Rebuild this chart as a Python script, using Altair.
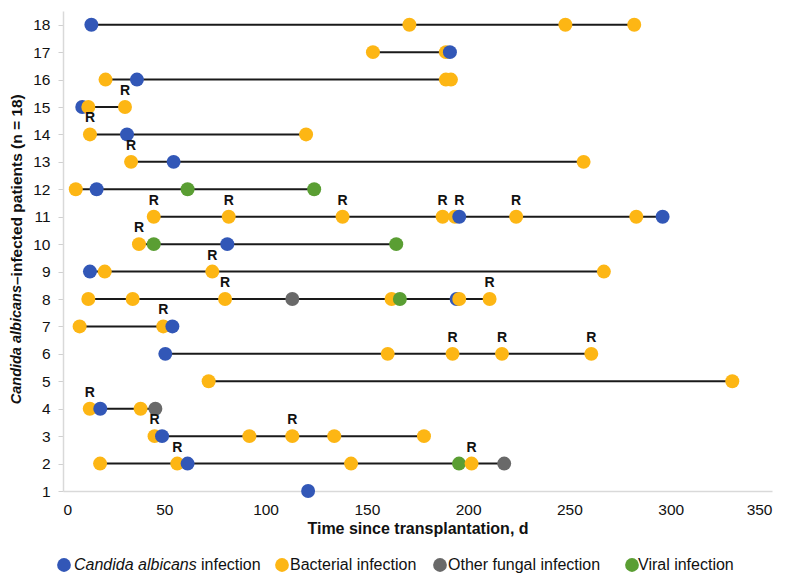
import altair as alt
import pandas as pd

# ---- data ----
CATS = ["Candida albicans infection", "Bacterial infection",
        "Other fungal infection", "Viral infection"]
COLORS = ["#3257B7", "#FDB614", "#696969", "#5A9E33"]
C, B, F, V = CATS

patient = ([18] * 4 + [17] * 3 + [16] * 4 + [15] * 3 + [14] * 3 + [13] * 3 +
           [12] * 4 + [11] * 9 + [10] * 4 + [9] * 4 + [8] * 9 + [7] * 3 +
           [6] * 5 + [5] * 2 + [4] * 4 + [3] * 6 + [2] * 7 + [1] * 1)
day = [14, 171, 248, 282,
       153, 189, 191,
       21, 36.5, 189, 191.5,
       9.5, 12.5, 30.6,
       13.3, 31.6, 120,
       33.6, 54.6, 257,
       6.3, 16.6, 61.5, 124,
       44.8, 81.8, 138, 187.4, 193.5, 195.6, 223.7, 283, 296,
       37.5, 44.8, 81.1, 164.5,
       13.3, 20.6, 73.7, 267,
       12.5, 34.4, 80, 113.2, 162.2, 166.3, 194.3, 195.6, 210.6,
       8.2, 49.5, 54,
       50.5, 160.3, 192.3, 216.7, 260.8,
       71.9, 330.4,
       13.2, 18.4, 38.3, 45.6,
       45.2, 48.9, 92, 113.2, 133.9, 178.2,
       18.3, 56.4, 61.5, 142.2, 195.5, 201.7, 217.8,
       121]
kind = [C, B, B, B,
        B, B, C,
        B, C, B, B,
        C, B, B,
        B, C, B,
        B, C, B,
        B, C, V, V,
        B, B, B, B, B, C, B, B, C,
        B, V, C, V,
        C, B, B, B,
        B, B, B, F, B, V, C, B, B,
        B, B, C,
        C, B, B, B, B,
        B, B,
        B, C, B, F,
        B, C, B, B, B, B,
        B, B, C, B, V, B, F,
        C]

# resistance ("R") markers
r_patient = [15, 14, 13, 11, 11, 11, 11, 11, 11, 10, 9, 8, 8, 7, 6, 6, 6, 4, 3, 3, 2, 2]
r_day = [30.6, 13.3, 33.6, 44.8, 81.8, 138, 187.4, 195.6, 223.7, 37.5, 73.7,
         80, 210.6, 49.5, 192.3, 216.7, 260.8, 13.2, 45.2, 113.2, 56.4, 201.7]

x_ticks = [0, 50, 100, 150, 200, 250, 300, 350]
y_ticks = list(range(1, 19))

df = pd.DataFrame({"patient": patient, "day": day, "kind": kind,
                   "seq": list(range(len(day)))})
rdf = pd.DataFrame({"patient": r_patient, "day": r_day})

FONT = "Liberation Sans"
W, H = 709, 480

xs = alt.Scale(domain=[0, 350], nice=False, zero=False)
ys = alt.Scale(domain=[1, 18.5], nice=False, zero=False)

xaxis = alt.Axis(values=x_ticks, tickCount=8, title="Time since transplantation, d",
                 grid=False, ticks=False, tickSize=0, labelPadding=11,
                 labelFontSize=15.5, labelColor="#111111", labelFont=FONT,
                 labelOverlap=False,
                 domainColor="#d9d9d9", domainWidth=1.5,
                 titleFont=FONT, titleFontSize=16, titleFontWeight="bold",
                 titleColor="#111111", titleY=42, titleBaseline="alphabetic")
yaxis = alt.Axis(values=y_ticks, tickCount=18, title=None, grid=False, format="d",
                 tickSize=5, tickColor="#d0d0d0", labelPadding=8,
                 labelFontSize=15.5, labelColor="#111111", labelFont=FONT,
                 labelOverlap=False,
                 domainColor="#d9d9d9", domainWidth=1.5)

X_MIN = alt.X("min(day):Q", scale=xs, axis=xaxis)
X_DAY = alt.X("day:Q", scale=xs, axis=xaxis)
Y_PAT = alt.Y("patient:Q", scale=ys, axis=yaxis)

base = alt.Chart(df)

lines = base.mark_rule(color="#1a1a1a", strokeWidth=2).encode(
    x=X_MIN,
    x2=alt.X2("day", aggregate="max"),
    y=Y_PAT,
)

points = base.mark_circle(size=195, opacity=1).encode(
    x=X_DAY,
    y=Y_PAT,
    color=alt.Color("kind:N", scale=alt.Scale(domain=CATS, range=COLORS), legend=None),
    order=alt.Order("seq:Q"),
)

rmarks = alt.Chart(rdf).mark_text(text="R", dy=-16, fontSize=14, font=FONT,
                                  fontWeight="bold", color="#111111").encode(
    x=X_DAY,
    y=Y_PAT,
)

one = pd.DataFrame({"a": [0]})

# y-axis title with italic species name
ytitle_it = alt.Chart(one).mark_text(
    text="Candida albicans", angle=270, align="right", baseline="middle",
    font=FONT, fontSize=14.5, fontStyle="italic", fontWeight="bold", color="#111111"
).encode(x=alt.value(-46), y=alt.value(274))
ytitle_rest = alt.Chart(one).mark_text(
    text="–infected patients (n = 18)", angle=270, align="left", baseline="middle",
    font=FONT, fontSize=15.5, fontWeight="bold", color="#111111"
).encode(x=alt.value(-46), y=alt.value(274))

# manual legend (to allow the italic species name)
LEG_Y = 554
leg_circle_x = [1, 219, 377, 569]
leg_text_x = [11, 227, 385, 575]
legend_layers = []
for i, (cat, col) in enumerate(zip(CATS, COLORS)):
    legend_layers.append(
        alt.Chart(one).mark_circle(size=190, opacity=1, color=col).encode(
            x=alt.value(leg_circle_x[i]), y=alt.value(LEG_Y)))
    if i == 0:
        legend_layers.append(
            alt.Chart(one).mark_text(text="Candida albicans", align="left",
                                     baseline="middle", font=FONT, fontSize=16,
                                     fontStyle="italic", color="#111111").encode(
                x=alt.value(leg_text_x[i]), y=alt.value(LEG_Y)))
        legend_layers.append(
            alt.Chart(one).mark_text(text="infection", align="left",
                                     baseline="middle", font=FONT, fontSize=16,
                                     color="#111111").encode(
                x=alt.value(leg_text_x[i] + 127), y=alt.value(LEG_Y)))
    else:
        legend_layers.append(
            alt.Chart(one).mark_text(text=cat, align="left", baseline="middle",
                                     font=FONT, fontSize=16, color="#111111").encode(
                x=alt.value(leg_text_x[i]), y=alt.value(LEG_Y)))

chart = alt.layer(lines, points, rmarks, ytitle_it, ytitle_rest, *legend_layers).properties(
    width=W, height=H,
    autosize=alt.AutoSizeParams(type="none"),
    padding={"left": 55, "top": 3, "right": 20, "bottom": 85},
    background="white",
).configure_view(stroke=None)

chart.save("out.html", embed_options={"renderer": "svg", "actions": False})
